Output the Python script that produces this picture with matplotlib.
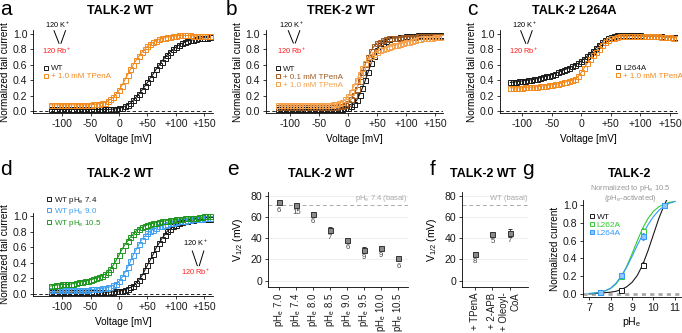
import matplotlib
matplotlib.use("Agg")
import matplotlib.pyplot as plt
from matplotlib.lines import Line2D
import numpy as np

plt.rcParams["font.family"] = ["Liberation Sans", "DejaVu Sans"]
plt.rcParams["mathtext.fontset"] = "custom"
plt.rcParams["mathtext.rm"] = "Liberation Sans"
plt.rcParams["mathtext.it"] = "Liberation Sans:italic"
plt.rcParams["mathtext.bf"] = "Liberation Sans:bold"

# ---------------- data ----------------
# test potentials (mV)
volt = list(range(-120, 165, 5))

# a: TALK-2 WT
a_wt = [0.02, 0.02, 0.02, 0.02, 0.02, 0.02, 0.02, 0.02, 0.02, 0.02,
        0.02, 0.02, 0.02, 0.02, 0.02, 0.02, 0.02, 0.02, 0.02, 0.02,
        0.02, 0.022, 0.025, 0.03, 0.035, 0.045, 0.06, 0.08, 0.10, 0.14,
        0.18, 0.22, 0.27, 0.32, 0.37, 0.43, 0.48, 0.54, 0.59, 0.64,
        0.69, 0.73, 0.77, 0.80, 0.83, 0.855, 0.875, 0.89, 0.905, 0.915,
        0.925, 0.935, 0.94, 0.945, 0.95, 0.95, 0.955]
a_tpa = [0.08, 0.08, 0.08, 0.08, 0.08, 0.08, 0.08, 0.08, 0.08, 0.08,
         0.08, 0.08, 0.08, 0.08, 0.08, 0.085, 0.09, 0.095, 0.10, 0.11,
         0.13, 0.15, 0.18, 0.22, 0.27, 0.33, 0.40, 0.47, 0.54, 0.60,
         0.66, 0.71, 0.76, 0.80, 0.84, 0.87, 0.89, 0.91, 0.93, 0.94,
         0.95, 0.96, 0.965, 0.97, 0.975, 0.98, 0.98, 0.98, 0.98, 0.98,
         0.975, 0.975, 0.97, 0.97, 0.97, 0.97, 0.97]

# b: TREK-2 WT
b_wt = [0.02, 0.02, 0.02, 0.02, 0.02, 0.02, 0.02, 0.02, 0.02, 0.02,
        0.02, 0.02, 0.02, 0.02, 0.02, 0.02, 0.02, 0.02, 0.02, 0.02,
        0.02, 0.025, 0.03, 0.035, 0.045, 0.06, 0.09, 0.14, 0.21, 0.30,
        0.40, 0.51, 0.62, 0.71, 0.79, 0.85, 0.88, 0.91, 0.93, 0.94,
        0.95, 0.95, 0.96, 0.96, 0.97, 0.97, 0.97, 0.97, 0.98, 0.98,
        0.98, 0.98, 0.98, 0.98, 0.98, 0.98, 0.98]
b_tpa01 = [0.05, 0.05, 0.05, 0.05, 0.05, 0.05, 0.05, 0.05, 0.05, 0.05,
           0.05, 0.05, 0.05, 0.05, 0.05, 0.05, 0.05, 0.05, 0.05, 0.05,
           0.05, 0.06, 0.07, 0.08, 0.11, 0.15, 0.21, 0.29, 0.39, 0.50,
           0.61, 0.70, 0.78, 0.84, 0.88, 0.90, 0.92, 0.93, 0.94, 0.94,
           0.95, 0.95, 0.95, 0.96, 0.96, 0.96, 0.96, 0.96, 0.97, 0.97,
           0.97, 0.97, 0.97, 0.97, 0.97, 0.97, 0.97]
b_tpa10 = [0.08, 0.08, 0.08, 0.08, 0.08, 0.08, 0.08, 0.08, 0.08, 0.08,
           0.08, 0.08, 0.08, 0.08, 0.08, 0.08, 0.08, 0.08, 0.08, 0.085,
           0.09, 0.10, 0.12, 0.15, 0.19, 0.25, 0.32, 0.40, 0.48, 0.56,
           0.62, 0.67, 0.71, 0.74, 0.77, 0.79, 0.81, 0.82, 0.83, 0.84,
           0.85, 0.86, 0.87, 0.88, 0.89, 0.90, 0.91, 0.92, 0.93, 0.93,
           0.94, 0.94, 0.95, 0.95, 0.96, 0.96, 0.96]

# c: TALK-2 L264A
c_mut = [0.37, 0.375, 0.38, 0.385, 0.39, 0.395, 0.40, 0.405, 0.41, 0.42,
         0.43, 0.44, 0.45, 0.46, 0.47, 0.485, 0.50, 0.515, 0.53, 0.545,
         0.56, 0.58, 0.60, 0.62, 0.65, 0.68, 0.71, 0.745, 0.78, 0.82,
         0.86, 0.89, 0.92, 0.94, 0.96, 0.97, 0.98, 0.98, 0.98, 0.98,
         0.98, 0.98, 0.98, 0.98, 0.98, 0.97, 0.97, 0.97, 0.97, 0.97,
         0.97, 0.97, 0.96, 0.96, 0.96, 0.96, 0.96]
c_tpa = [0.30, 0.30, 0.30, 0.30, 0.30, 0.305, 0.31, 0.31, 0.31, 0.315,
         0.32, 0.325, 0.33, 0.335, 0.34, 0.345, 0.35, 0.36, 0.37, 0.38,
         0.39, 0.40, 0.42, 0.45, 0.50, 0.56, 0.62, 0.67, 0.72, 0.77,
         0.81, 0.85, 0.89, 0.92, 0.94, 0.95, 0.96, 0.97, 0.97, 0.97,
         0.97, 0.97, 0.97, 0.97, 0.97, 0.97, 0.97, 0.97, 0.97, 0.97,
         0.97, 0.96, 0.96, 0.96, 0.96, 0.95, 0.95]

# d: TALK-2 WT at different pHe
d_74 = [0.02, 0.02, 0.02, 0.02, 0.02, 0.02, 0.02, 0.02, 0.02, 0.02,
        0.02, 0.02, 0.02, 0.02, 0.02, 0.02, 0.02, 0.02, 0.02, 0.02,
        0.02, 0.02, 0.025, 0.03, 0.035, 0.04, 0.05, 0.065, 0.08, 0.10,
        0.14, 0.18, 0.23, 0.30, 0.37, 0.44, 0.51, 0.59, 0.65, 0.71,
        0.76, 0.81, 0.84, 0.87, 0.89, 0.91, 0.925, 0.935, 0.945, 0.95,
        0.955, 0.96, 0.96, 0.96, 0.96, 0.96, 0.96]
d_90 = [0.05, 0.05, 0.05, 0.05, 0.05, 0.05, 0.05, 0.05, 0.05, 0.05,
        0.05, 0.05, 0.05, 0.05, 0.055, 0.055, 0.06, 0.065, 0.07, 0.075,
        0.08, 0.09, 0.11, 0.13, 0.16, 0.21, 0.27, 0.34, 0.42, 0.50,
        0.57, 0.64, 0.70, 0.74, 0.78, 0.81, 0.83, 0.85, 0.87, 0.88,
        0.89, 0.90, 0.91, 0.92, 0.93, 0.935, 0.94, 0.945, 0.95, 0.955,
        0.96, 0.965, 0.97, 0.97, 0.975, 0.98, 0.98]
d_105 = [0.10, 0.105, 0.11, 0.115, 0.12, 0.12, 0.12, 0.125, 0.13, 0.14,
         0.15, 0.155, 0.16, 0.17, 0.18, 0.19, 0.20, 0.215, 0.23, 0.25,
         0.28, 0.32, 0.37, 0.43, 0.50, 0.57, 0.63, 0.68, 0.73, 0.77,
         0.81, 0.84, 0.86, 0.875, 0.89, 0.90, 0.91, 0.92, 0.93, 0.935,
         0.94, 0.945, 0.95, 0.955, 0.96, 0.965, 0.97, 0.975, 0.98, 0.98,
         0.98, 0.985, 0.99, 0.99, 1.0, 1.0, 1.0]

# e: V1/2 vs pHe
ph_labels = ["7.0", "7.4", "8.0", "8.5", "9.0", "9.5", "10.0", "10.5"]
e_v = [74, 71.5, 63, 48, 38.5, 29, 31, 21]
e_err = [1.5, 1.0, 1.5, 3.0, 1.5, 2.5, 1.5, 1.5]
e_n = [6, 15, 6, 7, 6, 9, 9, 6]
basal_v = 71

# f: V1/2 with activators
f_labels = ["+ TPenA", "+ 2-APB", "+ Oleoyl-\nCoA"]
f_v = [25.5, 44.5, 45]
f_err = [2.0, 1.5, 4.0]
f_n = [8, 5, 7]

# g: pHe activation normalized to pHe 10.5
ph_pts = [7.5, 8.5, 9.5, 10.5]
g_wt = [0.02, 0.05, 0.33, 1.0]
g_wt_err = [0.005, 0.01, 0.03, 0.0]
g_l262a = [0.02, 0.20, 0.71, 1.0]
g_l262a_err = [0.005, 0.02, 0.03, 0.0]
g_l264a = [0.02, 0.21, 0.65, 1.0]
g_l264a_err = [0.005, 0.02, 0.04, 0.0]
ph_fit = [7.0, 7.25, 7.5, 7.75, 8.0, 8.25, 8.5, 8.75, 9.0,
          9.25, 9.5, 9.75, 10.0, 10.25, 10.5, 10.75, 11.0]
fit_wt = [0.0, 0.005, 0.01, 0.015, 0.02, 0.03, 0.05, 0.08, 0.13,
          0.21, 0.33, 0.49, 0.67, 0.85, 1.0, 1.12, 1.2]
fit_l262a = [0.005, 0.01, 0.02, 0.035, 0.06, 0.11, 0.19, 0.31, 0.45,
             0.60, 0.74, 0.85, 0.93, 0.98, 1.01, 1.03, 1.04]
fit_l264a = [0.005, 0.01, 0.02, 0.035, 0.065, 0.12, 0.20, 0.30, 0.42,
             0.55, 0.67, 0.78, 0.87, 0.94, 0.99, 1.02, 1.04]

# ---------------- colours ----------------
BLACK = "#1A1A1A"
ORANGE = "#F28A1E"
BROWN = "#A05A22"
LORANGE = "#F5A04A"
BLUE = "#40A0F0"
GREEN = "#1E961E"
GGREEN = "#33CC33"
GBLUE = "#3399FF"
RED = "#FF1A1A"
GREY = "#AAAAAA"

W, H = 682, 333
fig = plt.figure(figsize=(W / 100, H / 100), dpi=100)


def fx(x):
    return x / W


def fy(y):
    return 1 - y / H


def px_axes(l, t, r, b):
    return fig.add_axes([l / W, 1 - b / H, (r - l) / W, (b - t) / H])


def style(ax):
    ax.spines["top"].set_visible(False)
    ax.spines["right"].set_visible(False)
    ax.spines["left"].set_linewidth(0.6)
    ax.spines["bottom"].set_linewidth(0.6)
    ax.tick_params(length=2.5, width=0.6, labelsize=7.6, pad=1.5, colors=BLACK)


def iv_panel(box, xlim, series):
    ax = px_axes(*box)
    style(ax)
    ax.axhline(0, color="black", lw=0.6, dashes=(4, 3), zorder=1)
    for vals, col in series:
        ax.plot(volt, vals, color=col, lw=0.8, zorder=2)
        ax.plot(volt, vals, ls="none", marker="s", ms=3.6, mfc="none",
                mec=col, mew=0.7, zorder=3)
    ax.set_xlim(*xlim)
    ax.set_ylim(-0.03, 1.05)
    ax.set_xticks([-100, -50, 0, 50, 100, 150],
                  ["-100", "-50", "0", "+50", "+100", "+150"])
    yt = [0, 0.2, 0.4, 0.6, 0.8, 1.0]
    ax.set_yticks(yt, [f"{t:.1f}" for t in yt])
    ax.set_xlabel("Voltage [mV]", fontsize=7.2, labelpad=4)
    ax.set_ylabel("Normalized tail current", fontsize=7.2, labelpad=2)
    return ax


def legend(ax, labels, colors, mx, my, fs=5.8, fills=None):
    if fills is None:
        fills = ["none"] * len(colors)
    handles = [Line2D([], [], ls="none", marker="s", ms=3.4, mfc=f, mec=c, mew=0.7)
               for c, f in zip(colors, fills)]
    leg = ax.legend(handles, labels, loc="upper left",
                    bbox_to_anchor=(fx(mx - 2.4), fy(my - 4.5)),
                    bbox_transform=fig.transFigure, frameon=False, fontsize=fs,
                    handlelength=0.6, handletextpad=0.3, labelspacing=0.05,
                    borderpad=0, borderaxespad=0)
    for t, c in zip(leg.get_texts(), colors):
        t.set_color(c)


def ion_mark(x0, yt, yb, yk, yr):
    fig.text(fx(x0 - 1.5), fy(yk), "120 K$^+$", fontsize=5.3, ha="center", va="center")
    fig.add_artist(Line2D([fx(x0 - 5), fx(x0)], [fy(yt), fy(yb)], color="black", lw=0.7))
    fig.add_artist(Line2D([fx(x0 + 6.5), fx(x0 + 2)], [fy(yt), fy(yb)], color="black", lw=0.7))
    fig.text(fx(x0 - 2), fy(yr), "120 Rb$^+$", fontsize=5.3, ha="center", va="center", color=RED)


def title(cx, base, txt):
    fig.text(fx(cx), fy(base), txt, ha="center", va="baseline", fontsize=9, fontweight="bold")


def letter(x, base, txt):
    fig.text(fx(x), fy(base), txt, ha="left", va="baseline", fontsize=15)


# ---- a ----
ax = iv_panel((33, 30, 213, 113.3), (-151, 165), [(a_wt, BLACK), (a_tpa, ORANGE)])
legend(ax, ["WT", "+ 1.0 mM TPenA"], [BLACK, ORANGE], 45.7, 69.3)
ion_mark(59, 30.7, 43.3, 25, 51)
title(119.7, 14.5, "TALK-2 WT")
letter(0.5, 15, "a")

# ---- b ----
ax = iv_panel((265.7, 30, 443, 113.3), (-142, 164),
              [(b_wt, BLACK), (b_tpa01, BROWN), (b_tpa10, LORANGE)])
legend(ax, ["WT", "+ 0.1 mM TPenA", "+ 1.0 mM TPenA"], [BLACK, BROWN, LORANGE], 278.3, 70)
ion_mark(293.3, 30.7, 43, 25, 51)
title(340.5, 14.5, "TREK-2 WT")
letter(225.5, 15, "b")

# ---- c ----
ax = iv_panel((500, 30, 677, 113.3), (-137.5, 162), [(c_mut, BLACK), (c_tpa, ORANGE)])
legend(ax, ["L264A", "+ 1.0 mM TPenA"], [BLACK, ORANGE], 618.3, 69)
ion_mark(525.7, 30.7, 43.3, 25, 51)
title(574, 14.5, "TALK-2 L264A")
letter(467, 15, "c")

# ---- d ----
ax = iv_panel((33, 212.5, 213, 296), (-151, 165),
              [(d_74, BLACK), (d_90, BLUE), (d_105, GREEN)])
legend(ax, ["WT pH$_\\mathrm{e}$ 7.4", "WT pH$_\\mathrm{e}$ 9.0", "WT pH$_\\mathrm{e}$ 10.5"],
       [BLACK, BLUE, GREEN], 49.3, 199.3)
ion_mark(197.3, 251, 265.7, 243.3, 272.3)
title(119.7, 177, "TALK-2 WT")
letter(0.5, 175, "d")

# ---- e ----
ax = px_axes(268, 191.7, 408, 287)
style(ax)
ax.yaxis.grid(True, color="#EBEBEB", lw=0.6)
ax.set_axisbelow(True)
xe = np.arange(len(ph_labels))
ax.axhline(basal_v, color=GREY, lw=0.7, dashes=(4, 3), zorder=1)
ax.errorbar(xe, e_v, yerr=e_err, fmt="s", ms=3.6, mfc="#8A8A8A", mec="#333333",
            mew=0.7, ecolor="#333333", elinewidth=0.6, capsize=1.2, zorder=3)
for x, v, n in zip(xe, e_v, e_n):
    ax.annotate(str(n), (x, v), xytext=(0, -8), textcoords="offset pixels",
                ha="center", va="center", fontsize=5.6, color="#444444")
ax.text(7.55, 78, "pH$_\\mathrm{e}$ 7.4 (basal)", ha="right", va="center",
        fontsize=5.5, color=GREY)
ax.set_xlim(-0.66, 7.57)
ax.set_ylim(-6, 84)
ax.set_yticks([0, 20, 40, 60, 80])
ax.set_xticks(xe, [f"pH$_\\mathrm{{e}}$ {l}" for l in ph_labels], rotation=90, fontsize=6.9)
ax.set_ylabel("V$_{1/2}$ (mV)", fontsize=7.6, labelpad=4)
title(320.8, 177, "TALK-2 WT")
letter(227, 175, "e")

# ---- f ----
ax = px_axes(461.7, 191.7, 528, 287)
style(ax)
ax.yaxis.grid(True, color="#EBEBEB", lw=0.6)
ax.set_axisbelow(True)
xf = np.arange(len(f_labels))
ax.axhline(basal_v, color=GREY, lw=0.7, dashes=(4, 3), zorder=1)
ax.errorbar(xf, f_v, yerr=f_err, fmt="s", ms=3.6, mfc="#8A8A8A", mec="#333333",
            mew=0.7, ecolor="#333333", elinewidth=0.6, capsize=1.2, zorder=3)
for x, v, n in zip(xf, f_v, f_n):
    ax.annotate(str(n), (x, v), xytext=(0, -8), textcoords="offset pixels",
                ha="center", va="center", fontsize=5.6, color="#444444")
ax.text(3.0, 78, "WT (basal)", ha="right", va="center", fontsize=5.5, color=GREY)
ax.set_xlim(-0.76, 3.03)
ax.set_ylim(-6, 84)
ax.set_yticks([0, 20, 40, 60, 80])
ax.set_xticks(xf, f_labels, rotation=90, multialignment="right", fontsize=6.9)
ax.set_ylabel("V$_{1/2}$ (mV)", fontsize=7.6, labelpad=4)
title(483, 177, "TALK-2 WT")
letter(430, 175, "f")

# ---- g ----
ax = px_axes(583, 200, 681, 297)
style(ax)
ax.axhline(0, color=GREY, lw=2.0, dashes=(1.5, 1.5), zorder=1)
ax.plot(ph_fit, fit_wt, color=BLACK, lw=0.8, zorder=2)
ax.plot(ph_fit, fit_l262a, color=GGREEN, lw=0.8, zorder=2)
ax.plot(ph_fit, fit_l264a, color=GBLUE, lw=0.8, zorder=2)
ax.errorbar(ph_pts, g_wt, yerr=g_wt_err, fmt="s", ms=3.6, mfc="white", mec=BLACK,
            mew=0.7, ecolor=BLACK, elinewidth=0.6, capsize=1.0, zorder=3)
ax.errorbar(ph_pts, g_l262a, yerr=g_l262a_err, fmt="s", ms=3.6, mfc="white", mec=GGREEN,
            mew=0.7, ecolor=GGREEN, elinewidth=0.6, capsize=1.0, zorder=4)
ax.errorbar(ph_pts, g_l264a, yerr=g_l264a_err, fmt="s", ms=3.6, mfc="#8FC7FF", mec=GBLUE,
            mew=0.7, ecolor=GBLUE, elinewidth=0.6, capsize=1.0, zorder=5)
ax.set_xlim(6.72, 11.28)
ax.set_ylim(-0.034, 1.056)
ax.set_xticks([7, 8, 9, 10, 11])
yt = [0, 0.2, 0.4, 0.6, 0.8, 1.0]
ax.set_yticks(yt, [f"{t:.1f}" for t in yt])
ax.set_xlabel("pH$_\\mathrm{e}$", fontsize=7.6, labelpad=2)
ax.set_ylabel("Normalized current", fontsize=7.2, labelpad=2)
legend(ax, ["WT", "L262A", "L264A"], [BLACK, GGREEN, GBLUE], 591.7, 217.3, fs=6,
       fills=["none", "none", "#8FC7FF"])
fig.text(fx(630), fy(188.3), "Normalized to pH$_\\mathrm{e}$ 10.5", ha="center",
         va="center", fontsize=5.5, color="#999999")
fig.text(fx(630), fy(198.3), "(pH$_\\mathrm{e}$-activated)", ha="center",
         va="center", fontsize=5.5, color="#999999")
title(630, 177, "TALK-2")
letter(522, 175, "g")

fig.savefig("out.png", dpi=100)
